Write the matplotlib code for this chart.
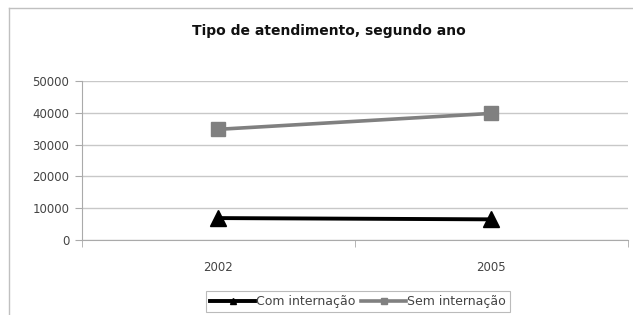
import matplotlib.pyplot as plt
from matplotlib.lines import Line2D

years = ['2002', '2005']
com_internacao = [6900, 6500]
sem_internacao = [34800, 39800]
y_ticks = [0, 10000, 20000, 30000, 40000, 50000]

fig = plt.figure(figsize=(6.33, 3.15), dpi=100)
ax = fig.add_axes([0.1295, 0.238, 0.862, 0.505])

x = list(range(len(years)))
ax.plot(x, com_internacao, color='black', linewidth=2.8, marker='^',
        markersize=11, label='Com internação', zorder=3)
ax.plot(x, sem_internacao, color='#808080', linewidth=2.6, marker='s',
        markersize=9.5, label='Sem internação', zorder=3)

ax.set_xlim(-0.5, len(years) - 0.5)
ax.set_ylim(0, 50000)
ax.set_yticks(y_ticks)
ax.set_yticklabels([str(v) for v in y_ticks], fontsize=8.5, color='#444444')
ax.set_xticks(x)
ax.set_xticklabels(years, fontsize=8.5, color='#444444')
ax.tick_params(axis='x', length=0, pad=15)
ax.set_xticks([i - 0.5 for i in range(len(years) + 1)], minor=True)
ax.tick_params(axis='x', which='minor', length=5, color='#aaaaaa')
ax.tick_params(axis='y', length=5, color='#aaaaaa', pad=4)
ax.grid(axis='y', color='#c8c8c8', linewidth=1)
ax.set_axisbelow(True)
for side in ['top', 'right']:
    ax.spines[side].set_visible(False)
for side in ['left', 'bottom']:
    ax.spines[side].set_color('#aaaaaa')

fig.text(0.519, 0.9, 'Tipo de atendimento, segundo ano', ha='center',
         va='center', fontsize=10, fontweight='bold', color='#111111')

# outer chart frame
fig.add_artist(Line2D([9 / 633, 9 / 633], [0, 1 - 8 / 315], color='#c0c0c0',
                      linewidth=1, transform=fig.transFigure))
fig.add_artist(Line2D([9 / 633, 1], [1 - 8 / 315, 1 - 8 / 315], color='#c0c0c0',
                      linewidth=1, transform=fig.transFigure))

leg = fig.legend(loc='upper center', bbox_to_anchor=(0.5655, 0.075), ncol=2,
                 fontsize=9, frameon=True, fancybox=False, handlelength=3.6,
                 handletextpad=0.05, columnspacing=0.5, borderpad=0.3,
                 borderaxespad=0, labelcolor='#444444')
leg.get_frame().set_edgecolor('#aaaaaa')
leg.get_frame().set_linewidth(0.8)
for line in leg.get_lines():
    line.set_markersize(5)

fig.savefig('out.png', dpi=100)
